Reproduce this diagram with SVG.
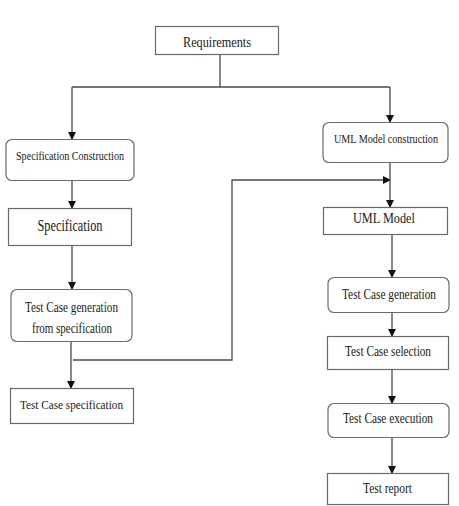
<svg xmlns="http://www.w3.org/2000/svg" width="459" height="506" viewBox="0 0 459 506">
<defs>
<marker id="arr" markerWidth="8" markerHeight="10" refX="7" refY="4" orient="auto" markerUnits="userSpaceOnUse">
<path d="M0,0 L8,4 L0,8 Z" fill="#111"/>
</marker>
</defs>
<style>
.box{fill:#fff;stroke:#6a6a6a;stroke-width:1.2}
.t{font-family:"Liberation Serif","Times New Roman",serif;font-size:14px;fill:#1a1a1a;text-anchor:middle}
.c{fill:none;stroke:#4a4a4a;stroke-width:1.3}
</style>
<rect width="459" height="506" fill="#fff"/>
<g id="connectors">
<path class="c" d="M220,54 V87"/>
<path class="c" d="M72,87 H390"/>
<path class="c" d="M72,87 V139" marker-end="url(#arr)"/>
<path class="c" d="M390,87 V122" marker-end="url(#arr)"/>
<path class="c" d="M72,180 V208" marker-end="url(#arr)"/>
<path class="c" d="M72,245 V289" marker-end="url(#arr)"/>
<path class="c" d="M71,341 V388" marker-end="url(#arr)"/>
<path class="c" d="M73,360 H232 V180 H390" marker-end="url(#arr)"/>
<path class="c" d="M390,162 V207" marker-end="url(#arr)"/>
<path class="c" d="M392,234 V277" marker-end="url(#arr)"/>
<path class="c" d="M392,312 V336" marker-end="url(#arr)"/>
<path class="c" d="M392,369 V403" marker-end="url(#arr)"/>
<path class="c" d="M392,437 V473" marker-end="url(#arr)"/>
</g>
<g id="requirements">
<rect class="box" x="155.5" y="26.5" width="123" height="28"/>
<text class="t" x="217" y="47" textLength="68" lengthAdjust="spacingAndGlyphs">Requirements</text>
</g>
<g id="spec-construction">
<rect class="box" x="6" y="139.5" width="128" height="41" rx="6"/>
<text class="t" x="70" y="160" style="font-size:13px" textLength="108" lengthAdjust="spacingAndGlyphs">Specification Construction</text>
</g>
<g id="specification">
<rect class="box" x="8.5" y="208.5" width="123" height="37"/>
<text class="t" x="70" y="231" style="font-size:17px" textLength="65" lengthAdjust="spacingAndGlyphs">Specification</text>
</g>
<g id="tc-gen-spec">
<rect class="box" x="11" y="289.5" width="121" height="52" rx="6"/>
<text class="t" x="71.5" y="312" textLength="93" lengthAdjust="spacingAndGlyphs">Test Case generation</text>
<text class="t" x="72" y="333" textLength="80" lengthAdjust="spacingAndGlyphs">from specification</text>
</g>
<g id="tc-specification">
<rect class="box" x="10.5" y="388.5" width="123" height="35"/>
<text class="t" x="71.5" y="409" style="font-size:13px" textLength="103" lengthAdjust="spacingAndGlyphs">Test Case specification</text>
</g>
<g id="uml-construction">
<rect class="box" x="323" y="122.5" width="125" height="40" rx="6"/>
<text class="t" x="386" y="143" style="font-size:11.5px" textLength="104" lengthAdjust="spacingAndGlyphs">UML Model construction</text>
</g>
<g id="uml-model">
<rect class="box" x="323.5" y="207.5" width="124" height="27"/>
<text class="t" x="384" y="223" textLength="62" lengthAdjust="spacingAndGlyphs">UML Model</text>
</g>
<g id="tc-generation">
<rect class="box" x="328" y="277.5" width="121" height="35" rx="6"/>
<text class="t" x="389" y="299" textLength="94" lengthAdjust="spacingAndGlyphs">Test Case generation</text>
</g>
<g id="tc-selection">
<rect class="box" x="327.5" y="336.5" width="121" height="33"/>
<text class="t" x="388" y="356" textLength="86" lengthAdjust="spacingAndGlyphs">Test Case selection</text>
</g>
<g id="tc-execution">
<rect class="box" x="328" y="403.5" width="121" height="34" rx="6"/>
<text class="t" x="388" y="423" textLength="90" lengthAdjust="spacingAndGlyphs">Test Case execution</text>
</g>
<g id="test-report">
<rect class="box" x="327.5" y="473.5" width="121" height="31"/>
<text class="t" x="387.5" y="493" textLength="49" lengthAdjust="spacingAndGlyphs">Test report</text>
</g>
</svg>
